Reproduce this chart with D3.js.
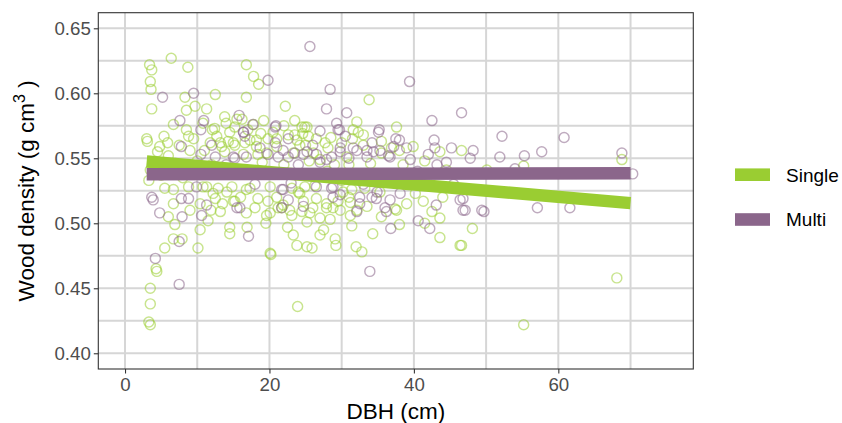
<!DOCTYPE html>
<html><head><meta charset="utf-8">
<script src="https://cdn.jsdelivr.net/npm/d3@7"></script>
<style>body{margin:0;background:#fff}svg{display:block}text{font-family:"Liberation Sans",Arial,sans-serif}</style>
</head><body><svg id="c" width="842" height="423"></svg>
<script>
const xTicks = [0, 20, 40, 60];
const xMinor = [10, 30, 50, 70];
const yTicks = [0.40, 0.45, 0.50, 0.55, 0.60, 0.65];
const yMinor = [0.425, 0.475, 0.525, 0.575, 0.625];
const groups = ["Single", "Multi"];
const colors = ["#9ACD32", "#8B668B"];
// [DBH, wood density]
const singlePts = [
[3.4,0.622],[3.7,0.618],[6.4,0.627],[8.7,0.620],[3.5,0.609],[3.6,0.603],[3.7,0.588],[8.3,0.597],[12.5,0.599],
[16.8,0.622],[17.8,0.613],[18.5,0.607],[16.8,0.597],[22.2,0.590],[9.7,0.590],[8.5,0.587],[11.3,0.588],[6.7,0.576],
[13.8,0.582],[16.2,0.580],[17.8,0.576],[19.2,0.579],[15.2,0.574],[12.1,0.572],[12.7,0.567],[8.5,0.572],[8.8,0.567],
[5.4,0.567],[3.0,0.565],[3.1,0.563],[4.8,0.559],[5.9,0.562],[13.4,0.559],[14.3,0.563],[15.2,0.560],[16.6,0.562],
[18.2,0.564],[19.8,0.565],[21.0,0.565],[23.5,0.568],[24.5,0.574],[13.8,0.555],[18.4,0.553],[8.8,0.528],[11.3,0.528],
[12.9,0.527],[14.8,0.528],[16.8,0.526],[23.1,0.527],[24.0,0.524],[5.5,0.527],[6.7,0.526],
[33.8,0.595],[32.1,0.578],[32.3,0.570],[25.2,0.574],[25.4,0.567],[24.6,0.569],[39.9,0.559],[46.6,0.556],[36.9,0.558],
[28.1,0.558],[30.7,0.551],[27.0,0.549],[31.4,0.526],[33.2,0.527],[40.2,0.523],[24.9,0.528],
[6.7,0.515],[10.4,0.515],[12.5,0.519],[11.9,0.510],[6.0,0.505],[6.9,0.499],[10.4,0.495],[14.5,0.497],[14.5,0.492],
[16.9,0.497],[15.2,0.517],[19.6,0.506],[19.8,0.517],[21.7,0.512],[6.7,0.488],[7.9,0.488],[5.5,0.481],[10.1,0.481],
[20.2,0.476],[23.3,0.491],[23.8,0.483],[4.3,0.465],[4.4,0.463],[3.5,0.450],[3.5,0.438],[3.3,0.424],[3.5,0.422],
[23.9,0.436],[23.1,0.506],[24.5,0.509],
[24.7,0.517],[25.2,0.501],[27.0,0.491],[29.1,0.488],[29.2,0.483],[25.2,0.482],[25.9,0.481],[31.4,0.498],[32.0,0.482],
[32.8,0.478],[34.3,0.492],[38.0,0.499],[42.5,0.509],[43.6,0.504],[43.6,0.489],[46.4,0.483],[37.4,0.511],[29.8,0.510],
[27.9,0.512],[27.0,0.504],[28.4,0.503],[41.3,0.517],[31.2,0.516],
[68.8,0.549],[50.1,0.541],[55.2,0.544],[48.1,0.496],[46.6,0.483],[68.1,0.458],[55.2,0.422],
[10.8,0.577],[12.4,0.573],[14.0,0.577],[15.5,0.580],[22.6,0.568],[24.9,0.574],[31.6,0.572],[33.0,0.568],[37.6,0.574],
[11.8,0.562],[13.2,0.562],[15.0,0.562],[17.3,0.564],[18.2,0.559],[16.4,0.553],[19.6,0.554],[21.0,0.559],[23.3,0.554],
[24.2,0.560],[26.1,0.554],[35.5,0.554],[27.7,0.562],[23.8,0.564],
[10.8,0.528],[12.2,0.523],[14.1,0.524],[15.0,0.517],[17.3,0.527],[18.4,0.519],[20.1,0.528],[22.8,0.510],[21.2,0.512],
[24.2,0.523],[26.3,0.529],[26.5,0.519],[30.2,0.524],[32.1,0.510],[35.3,0.524],[37.6,0.510],[16.8,0.508],[13.2,0.509],
[20.1,0.508],[25.6,0.508],[28.8,0.512],[31.2,0.506],[27.9,0.515],[21.9,0.514],
[3.3,0.533],[3.5,0.541],[43.6,0.555],[20.1,0.477],[9.0,0.556],[10.0,0.548],[7.0,0.546],[19.0,0.547],[29.0,0.545],
[34.0,0.546],[38.5,0.545],[41.5,0.548],[44.5,0.541],[26.0,0.537],[30.0,0.533],[37.0,0.534],
[4.5,0.555],[6.0,0.552],[7.5,0.560],[9.5,0.565],[11.0,0.556],[12.0,0.545],[14.5,0.570],[17.0,0.572],[18.8,0.569],
[20.5,0.570],[22.0,0.575],[23.5,0.579],[25.0,0.560],[26.5,0.565],[28.5,0.566],[30.0,0.562],[31.5,0.565],[33.0,0.560],
[35.5,0.563],[38.0,0.556],[9.0,0.510],[11.5,0.502],[13.5,0.515],[16.0,0.520],[18.0,0.512],[19.5,0.500],[21.0,0.520],
[22.5,0.497],[26.0,0.512],[27.5,0.495],[29.5,0.517],[31.0,0.520],[33.5,0.513],[35.5,0.505],[39.0,0.515],[41.5,0.500],
[44.0,0.520],[5.0,0.537],[8.0,0.535],[13.0,0.540],[17.5,0.540],[22.0,0.545],[25.5,0.548],[28.0,0.540],[31.0,0.545]
];
const multiPts = [
[5.2,0.597],[9.5,0.600],[19.8,0.610],[7.6,0.579],[10.9,0.579],[10.5,0.572],[15.8,0.583],[17.7,0.576],[20.8,0.574],
[16.4,0.570],[16.6,0.567],[22.6,0.565],[7.8,0.559],[10.5,0.553],[12.5,0.551],[15.2,0.550],[16.8,0.551],[19.8,0.553],
[21.2,0.551],[22.6,0.551],[23.5,0.554],[3.7,0.520],[9.9,0.528],[21.9,0.526],
[25.6,0.636],[28.4,0.603],[39.4,0.609],[27.9,0.588],[30.7,0.585],[29.3,0.577],[29.7,0.572],[35.2,0.572],[42.5,0.579],
[46.6,0.585],[38.0,0.564],[42.8,0.564],[42.9,0.558],[45.2,0.558],[34.2,0.562],[35.3,0.556],[39.0,0.558],[29.8,0.558],
[31.6,0.558],[33.5,0.556],[26.5,0.553],[36.5,0.552],[42.0,0.553],[44.5,0.547],[24.7,0.553],[27.9,0.549],[39.5,0.549],
[43.2,0.545],[26.5,0.528],[28.8,0.528],[34.9,0.524],[38.1,0.523],[29.8,0.522],
[3.9,0.518],[8.8,0.519],[7.8,0.519],[4.8,0.508],[7.9,0.505],[10.6,0.506],[17.1,0.490],[15.5,0.512],[21.7,0.512],
[7.5,0.486],[4.2,0.473],[7.5,0.453],
[33.9,0.463],[36.8,0.496],[40.6,0.502],[42.2,0.496],[46.8,0.510],[46.4,0.518],[43.1,0.514],[36.2,0.509],[32.1,0.509],
[32.5,0.515],[34.8,0.519],
[52.2,0.567],[60.8,0.566],[48.2,0.556],[47.8,0.550],[51.9,0.551],[55.3,0.552],[57.7,0.555],[68.8,0.554],[70.3,0.538],
[54.0,0.542],[46.8,0.519],[47.1,0.510],[49.4,0.510],[49.7,0.509],[57.1,0.512],[61.6,0.512],
[16.4,0.570],[20.9,0.575],[29.5,0.572],[35.1,0.570],[15.0,0.551],[18.7,0.558],[21.9,0.556],[25.2,0.555],[27.0,0.547],
[28.6,0.551],[29.8,0.555],[32.1,0.556],[33.5,0.551],[34.4,0.555],[36.7,0.551],[37.2,0.559],[20.8,0.562],
[21.7,0.526],[22.6,0.518],[24.7,0.513],[28.6,0.527],[28.8,0.520],[32.5,0.520],[34.2,0.520],[36.7,0.518],[15.9,0.512],
[11.3,0.514],[36.0,0.512],
[12.0,0.560],[14.0,0.545],[18.0,0.530],[24.0,0.545],[26.0,0.560],[31.0,0.550],[33.0,0.530],[38.5,0.533],[40.5,0.540],
[45.5,0.530],[30.5,0.567],[27.0,0.571],[37.5,0.565],[23.0,0.531]
];
const singleFit = [[3.0,0.5475],[70.0,0.5155]];
const multiFit = [[3.0,0.5378],[70.0,0.5385]];

const svg = d3.select("#c");
const L = 98.3, R = 693.3, T = 12.7, B = 369;
const x = d3.scaleLinear().domain([-3.70, 78.69]).range([L, R]);
const y = d3.scaleLinear().domain([0.3879, 0.662]).range([B, T]);

const grid = svg.append("g").attr("stroke", "#d6d6d6").attr("stroke-width", 2);
xTicks.concat(xMinor).forEach(v => grid.append("line").attr("x1", x(v)).attr("x2", x(v)).attr("y1", T).attr("y2", B));
yTicks.concat(yMinor).forEach(v => grid.append("line").attr("y1", y(v)).attr("y2", y(v)).attr("x1", L).attr("x2", R));

const ptsG = svg.append("g");
[singlePts, multiPts].forEach((arr, i) => {
  ptsG.append("g").selectAll("circle").data(arr).join("circle")
    .attr("cx", d => x(d[0])).attr("cy", d => y(d[1])).attr("r", 5)
    .attr("fill", "none").attr("stroke", colors[i]).attr("stroke-width", 1.45).attr("stroke-opacity", 0.55);
});

const line = d3.line().x(d => x(d[0])).y(d => y(d[1]));
[singleFit, multiFit].forEach((f, i) => {
  svg.append("path").attr("d", line(f)).attr("stroke", colors[i]).attr("stroke-width", 12.5).attr("fill", "none").attr("stroke-linecap", "butt");
});

svg.append("rect").attr("x", L).attr("y", T).attr("width", R - L).attr("height", B - T)
  .attr("fill", "none").attr("stroke", "#333").attr("stroke-width", 1.1);

const xAxis = svg.append("g").attr("transform", `translate(0,${B})`)
  .call(d3.axisBottom(x).tickValues(xTicks).tickFormat(d3.format("d")).tickSize(4.5).tickPadding(4));
const yAxis = svg.append("g").attr("transform", `translate(${L},0)`)
  .call(d3.axisLeft(y).tickValues(yTicks).tickFormat(d3.format(".2f")).tickSize(4.5).tickPadding(3));
[xAxis, yAxis].forEach(a => {
  a.select(".domain").remove();
  a.selectAll(".tick line").attr("stroke", "#333").attr("stroke-width", 1.1);
  a.selectAll(".tick text").attr("fill", "#4d4d4d").style("font-size", "18.7px").style("font-family", "'Liberation Sans',Arial,sans-serif");
});

svg.append("text").attr("x", (L + R) / 2).attr("y", 419).attr("text-anchor", "middle")
  .style("font-size", "22.5px").attr("fill", "#000").text("DBH (cm)");
const yt = svg.append("text").attr("transform", `translate(34,${(T + B) / 2}) rotate(-90)`)
  .attr("text-anchor", "middle").style("font-size", "22.5px").attr("fill", "#000");
yt.append("tspan").text("Wood density (g cm");
yt.append("tspan").attr("dy", -9).style("font-size", "16px").text("3");
yt.append("tspan").attr("dy", 9).text(" )");

const leg = svg.append("g");
groups.forEach((g, i) => {
  const cy = 174.7 + i * 44.8;
  leg.append("rect").attr("x", 735).attr("y", cy - 6.3).attr("width", 35).attr("height", 12.6).attr("fill", colors[i]);
  leg.append("text").attr("x", 786).attr("y", cy).attr("dy", "0.36em").style("font-size", "19px").attr("fill", "#000").text(g);
});
</script></body></html>
